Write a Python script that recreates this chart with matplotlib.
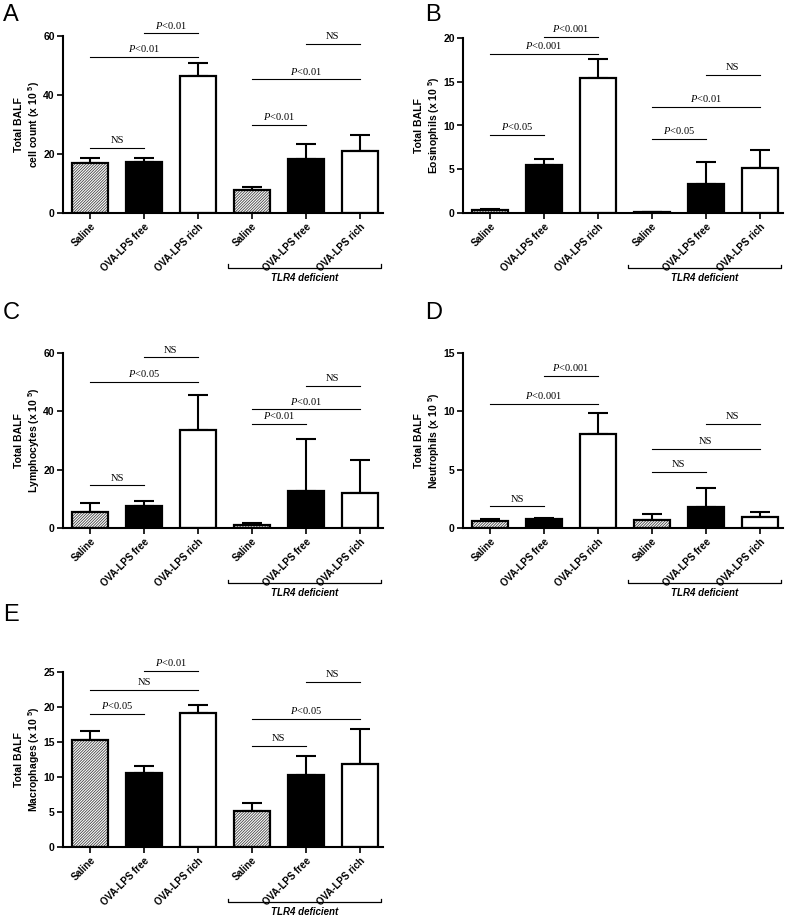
import numpy as np
import matplotlib.pyplot as plt
from matplotlib.transforms import blended_transform_factory

plt.rcParams['font.family'] = ['Liberation Sans', 'DejaVu Sans']
plt.rcParams['mathtext.fontset'] = 'custom'
plt.rcParams['mathtext.it'] = 'Liberation Serif:italic'
plt.rcParams['mathtext.rm'] = 'Liberation Sans'
plt.rcParams['mathtext.bf'] = 'Liberation Sans:bold'
plt.rcParams['hatch.linewidth'] = 0.6

groups = ["Saline", "OVA-LPS free", "OVA-LPS rich", "Saline", "OVA-LPS free", "OVA-LPS rich"]

# means and upper SEM, x 10^5 cells
total_mean = [17.0, 17.4, 46.5, 7.7, 18.2, 20.9]
total_sem = [1.6, 1.1, 4.5, 1.0, 5.3, 5.4]
eos_mean = [0.35, 5.5, 15.4, 0.12, 3.37, 5.16]
eos_sem = [0.15, 0.7, 2.2, 0.05, 2.43, 2.04]
lym_mean = [5.5, 7.5, 33.7, 1.0, 12.6, 12.1]
lym_sem = [3.1, 1.8, 12.0, 0.8, 18.0, 11.2]
neu_mean = [0.6, 0.75, 8.1, 0.71, 1.8, 0.91]
neu_sem = [0.2, 0.1, 1.76, 0.49, 1.63, 0.49]
mac_mean = [15.24, 10.57, 19.14, 5.1, 10.3, 11.8]
mac_sem = [1.36, 1.03, 1.16, 1.23, 2.75, 5.1]

# comparisons: (bar i, bar j, line height, label)
total_sig = [(0, 1, 22.2, "NS"), (0, 2, 52.8, "P<0.01"), (1, 2, 60.9, "P<0.01"),
             (3, 4, 29.9, "P<0.01"), (3, 5, 45.3, "P<0.01"), (4, 5, 57.4, "NS")]
eos_sig = [(0, 1, 8.95, "P<0.05"), (0, 2, 18.2, "P<0.001"), (1, 2, 20.15, "P<0.001"),
           (3, 4, 8.45, "P<0.05"), (3, 5, 12.16, "P<0.01"), (4, 5, 15.8, "NS")]
lym_sig = [(0, 1, 14.6, "NS"), (0, 2, 50.2, "P<0.05"), (1, 2, 58.5, "NS"),
           (3, 4, 35.8, "P<0.01"), (3, 5, 40.7, "P<0.01"), (4, 5, 48.6, "NS")]
neu_sig = [(0, 1, 1.86, "NS"), (0, 2, 10.63, "P<0.001"), (1, 2, 13.06, "P<0.001"),
           (3, 4, 4.8, "NS"), (3, 5, 6.8, "NS"), (4, 5, 8.94, "NS")]
mac_sig = [(0, 1, 19.05, "P<0.05"), (0, 2, 22.4, "NS"), (1, 2, 25.2, "P<0.01"),
           (3, 4, 14.4, "NS"), (3, 5, 18.3, "P<0.05"), (4, 5, 23.6, "NS")]

panels = [
    ("A", "cell count", total_mean, total_sem, total_sig, [0, 20, 40, 60]),
    ("B", "Eosinophils", eos_mean, eos_sem, eos_sig, [0, 5, 10, 15, 20]),
    ("C", "Lymphocytes", lym_mean, lym_sem, lym_sig, [0, 20, 40, 60]),
    ("D", "Neutrophils", neu_mean, neu_sem, neu_sig, [0, 5, 10, 15]),
    ("E", "Macrophages", mac_mean, mac_sem, mac_sig, [0, 5, 10, 15, 20, 25]),
]

W, H = 785, 916
fig = plt.figure(figsize=(W / 100, H / 100), dpi=100)

# axes boxes in pixels: left, top (ymax), bottom (0), panel-letter x/y
boxes = [(63, 36, 213, 3, 4), (463, 38, 213, 425, 4),
         (63, 353, 528, 3, 302), (463, 353, 528, 425, 302),
         (63, 672, 847, 3, 604)]
ax_w = 320

x = np.arange(6)
face = ["white", "black", "white", "white", "black", "white"]
hatched = [True, False, False, True, False, False]

for (letter, cell, mean, sem, sig, yticks), (l, t, b, lx, ly) in zip(panels, boxes):
    ax = fig.add_axes([l / W, 1 - b / H, ax_w / W, (b - t) / H])

    ax.errorbar(x, mean, yerr=[np.zeros(6), sem], fmt="none", ecolor="black",
                elinewidth=1.5, capsize=7, capthick=1.5, zorder=1)
    for i in range(6):
        if hatched[i]:
            ax.bar(x[i], mean[i], width=0.67, color="white", edgecolor="#444444",
                   hatch="////////////", linewidth=0, zorder=2)
            ax.bar(x[i], mean[i], width=0.67, color="none", edgecolor="black",
                   linewidth=1.6, zorder=3)
        else:
            ax.bar(x[i], mean[i], width=0.67, color=face[i], edgecolor="black",
                   linewidth=1.6, zorder=2)

    ax.set_xlim(-0.5, 5.43)
    ax.set_ylim(0, yticks[-1])
    ax.set_yticks(yticks)
    ax.set_xticks(x)
    ax.set_xticklabels(groups, rotation=45, ha="right", rotation_mode="anchor",
                       fontsize=7, fontweight="bold")
    for lab in ax.get_yticklabels():
        lab.set_fontweight("bold")
        lab.set_fontsize(7.5)
    ax.tick_params(direction="out", length=4, width=1.2, pad=2)
    for s in ["top", "right"]:
        ax.spines[s].set_visible(False)
    for s in ["left", "bottom"]:
        ax.spines[s].set_linewidth(1.5)
    ax.set_ylabel("Total BALF\n" + cell + r" (x 10 $^{\mathbf{5}}$)", fontsize=7.5,
                  fontweight="bold", labelpad=1)

    for i, j, yy, txt in sig:
        ax.plot([x[i], x[j]], [yy, yy], color="black", lw=0.8, clip_on=False)
        lbl = txt.replace("P", "$P$") if txt.startswith("P") else txt
        ax.annotate(lbl, ((x[i] + x[j]) / 2, yy), xytext=(0, 2),
                    textcoords="offset points", ha="center", va="bottom",
                    fontsize=7.5, family="Liberation Serif", annotation_clip=False)

    # TLR4 bracket under the right group
    tr = blended_transform_factory(ax.transData, ax.transAxes)
    yb = -55 / (b - t)
    ax.plot([2.56, 2.56, 5.39, 5.39], [yb + 0.02, yb, yb, yb + 0.02], color="black",
            lw=0.9, transform=tr, clip_on=False)
    ax.text(3.97, yb - 0.03, "TLR4 deficient", transform=tr, ha="center", va="top",
            fontsize=7, fontweight="bold", style="italic")

    fig.text(lx / W, 1 - ly / H, letter, fontsize=17, ha="left", va="top")

fig.savefig("out.png", dpi=100, facecolor="white")
